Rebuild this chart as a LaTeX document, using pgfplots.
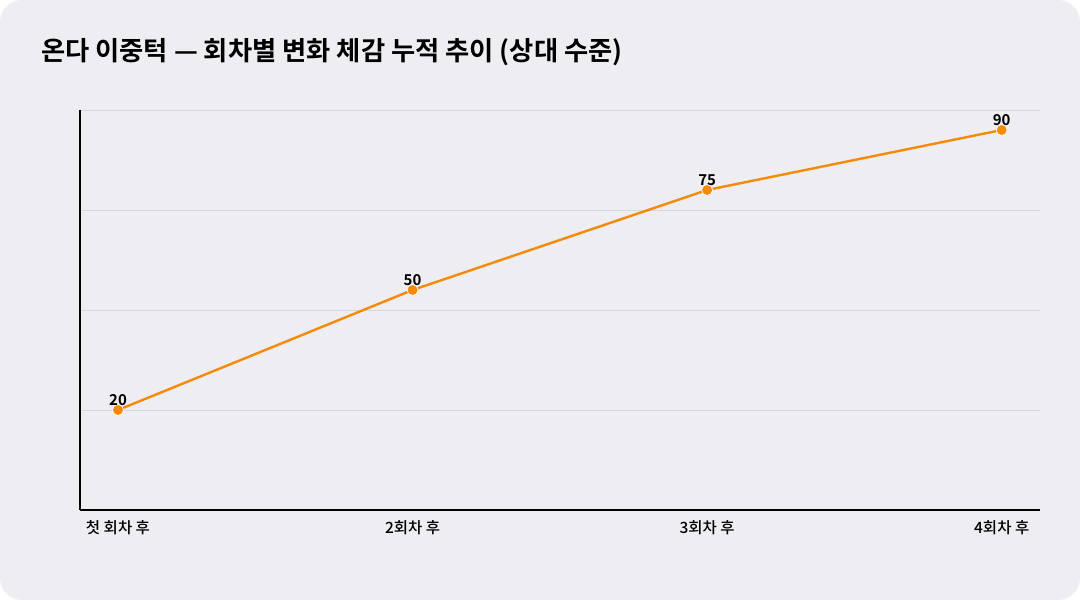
\documentclass[border=0pt]{standalone}
\usepackage{pgfplots}
\pgfplotsset{compat=1.18}
\usepackage{fontspec}
\setmainfont{Noto Sans CJK KR}
\newfontfamily\cjkbold{Noto Sans CJK KR Bold}
\newfontfamily\cjkmed{Noto Sans CJK KR Medium}
\definecolor{bgcol}{RGB}{237,237,242}
\definecolor{linecol}{RGB}{245,138,8}
\definecolor{gridcol}{RGB}{214,214,220}

\begin{document}
\begin{tikzpicture}
    \fill[white] (0pt,0pt) rectangle (1080pt,600pt);
    \fill[bgcol, rounded corners=22pt] (0pt,0pt) rectangle (1080pt,600pt);
    \node[anchor=base west, inner sep=0pt, font=\cjkbold\fontsize{26.3}{30}\selectfont]
        at (41pt,539pt) {온다 이중턱 — 회차별 변화 체감 누적 추이 (상대 수준)};

    \begin{axis}[
        at={(80pt,90pt)}, anchor=south west,
        scale only axis, width=960pt, height=400pt,
        xmin=-0.129, xmax=3.13,
        ymin=-5, ymax=95,
        axis x line*=bottom, axis y line*=left,
        axis line style={-, line width=1.6pt, black},
        xtick={0,1,2,3},
        xticklabels={첫 회차 후, 2회차 후, 3회차 후, 4회차 후},
        xticklabel style={font=\cjkmed\fontsize{15.5}{18}\selectfont, yshift=-7pt},
        ytick={-5,20,45,70,95},
        yticklabels={},
        major tick length=0pt,
        ymajorgrids,
        grid style={gridcol, line width=0.8pt},
        clip=false,
        /pgf/number format/assume math mode=true,
        nodes near coords,
        nodes near coords style={font=\cjkbold\fontsize{15}{17}\selectfont, text=black, yshift=1pt},
    ]
    \addplot[color=linecol, line width=2.4pt, mark=*,
        mark size=5.5pt,
        mark options={fill=linecol, draw=white, line width=0.7pt}]
        coordinates {(0,20) (1,50) (2,75) (3,90)};
    \end{axis}
\end{tikzpicture}
\end{document}
